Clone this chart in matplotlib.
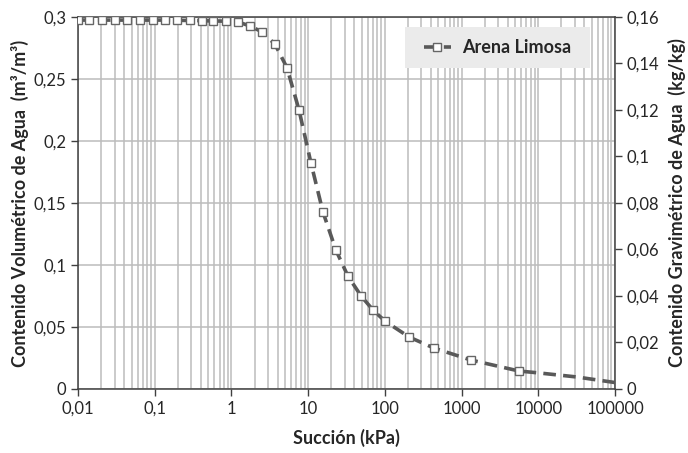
import numpy as np
import matplotlib.pyplot as plt
from matplotlib.patches import Rectangle
from matplotlib.ticker import FixedLocator, FuncFormatter, NullFormatter

plt.rcParams['font.family'] = ['Lato', 'DejaVu Sans']

# measured points (suction kPa, volumetric water content)
suction = [0.01, 0.0139, 0.0206, 0.0303, 0.0435, 0.0643, 0.095, 0.136, 0.195,
           0.288, 0.414, 0.575, 0.85, 1.22, 1.75, 2.5, 3.7, 5.3, 7.6, 10.9,
           15.6, 23, 33, 49, 70, 100, 207, 436, 1318, 5600]
theta = [0.2975, 0.2975, 0.2975, 0.2975, 0.2975, 0.2975, 0.2975, 0.2975, 0.2973,
         0.2972, 0.297, 0.2968, 0.2966, 0.296, 0.2927, 0.288, 0.278, 0.259, 0.225, 0.182,
         0.1427, 0.112, 0.091, 0.075, 0.0637, 0.0548, 0.0419, 0.033, 0.0234, 0.0145]

# dashed curve continues past the last measurement
tail_suction = [10000, 31600, 100000]
tail_theta = [0.0130, 0.0097, 0.0052]

x_ticks = [0.01, 0.1, 1, 10, 100, 1000, 10000, 100000]
y_ticks = [0, 0.05, 0.1, 0.15, 0.2, 0.25, 0.3]
y2_ticks = [0, 0.02, 0.04, 0.06, 0.08, 0.1, 0.12, 0.14, 0.16]

C_LINE = '#595959'
C_GRID = '#bcbcbc'
C_SPINE = '#404040'
C_TEXT = '#262626'


def comma(v, pos=None):
    return ('%g' % round(v, 3)).replace('.', ',')


fig = plt.figure(figsize=(6.88, 4.53), dpi=100)
ax = fig.add_axes([0.1134, 0.1413, 0.7805, 0.8212])

ax.plot(suction + tail_suction, theta + tail_theta, color=C_LINE, lw=2.6,
        ls=(0, (3.5, 2.0)), marker='s', ms=6, mfc='white', mec='#666666', mew=1.0,
        markevery=list(range(len(suction))), label='Arena Limosa', zorder=3)

ax.set_xscale('log')
ax.set_xlim(0.01, 100000)
ax.set_ylim(0, 0.3)
minor = [d * k for d in x_ticks[:-1] for k in range(2, 10)]
ax.xaxis.set_major_locator(FixedLocator(x_ticks))
ax.xaxis.set_minor_locator(FixedLocator(minor))
ax.xaxis.set_minor_formatter(NullFormatter())
ax.xaxis.set_major_formatter(FuncFormatter(lambda v, p: comma(v) if v < 1 else '%d' % v))
ax.yaxis.set_major_locator(FixedLocator(y_ticks))
ax.yaxis.set_major_formatter(FuncFormatter(comma))

ax.grid(True, which='both', axis='x', color=C_GRID, lw=1.1)
ax.grid(True, which='major', axis='y', color=C_GRID, lw=1.1)
ax.set_axisbelow(True)
ax.tick_params(axis='x', which='minor', length=0)
ax.tick_params(axis='both', which='major', length=5, width=1, color=C_SPINE,
               labelsize=12, labelcolor=C_TEXT, direction='out')
for s in ax.spines.values():
    s.set_color(C_SPINE)
    s.set_linewidth(1.1)

ax.set_xlabel('Succión (kPa)', fontsize=13, fontweight='bold', color=C_TEXT, labelpad=9)
ax.set_ylabel('Contenido Volumétrico de Agua  (m³/m³)', fontsize=13,
              fontweight='bold', color=C_TEXT, labelpad=3)

ax2 = ax.twinx()
ax2.set_ylim(0, 0.16)
ax2.yaxis.set_major_locator(FixedLocator(y2_ticks))
ax2.yaxis.set_major_formatter(FuncFormatter(comma))
ax2.tick_params(axis='y', length=5, width=1, color=C_SPINE, labelsize=12,
                labelcolor=C_TEXT, direction='out')
for s in ax2.spines.values():
    s.set_visible(False)
ax2.set_ylabel('Contenido Gravimétrico de Agua  (kg/kg)', fontsize=13,
               fontweight='bold', color=C_TEXT, labelpad=6)

# legend background box
box = Rectangle((0.609, 0.863), 0.344, 0.110, transform=ax.transAxes,
                facecolor='#ebebeb', edgecolor='none', zorder=4)
ax.add_patch(box)
leg = ax.legend(loc='center', bbox_to_anchor=(0.609 + 0.172, 0.863 + 0.055), borderaxespad=0,
                frameon=False, handlelength=1.5, borderpad=0, handletextpad=0.6,
                prop={'weight': 'bold', 'size': 13})
for t in leg.get_texts():
    t.set_color(C_TEXT)
leg.set_zorder(5)

fig.savefig('out.png', dpi=100)
